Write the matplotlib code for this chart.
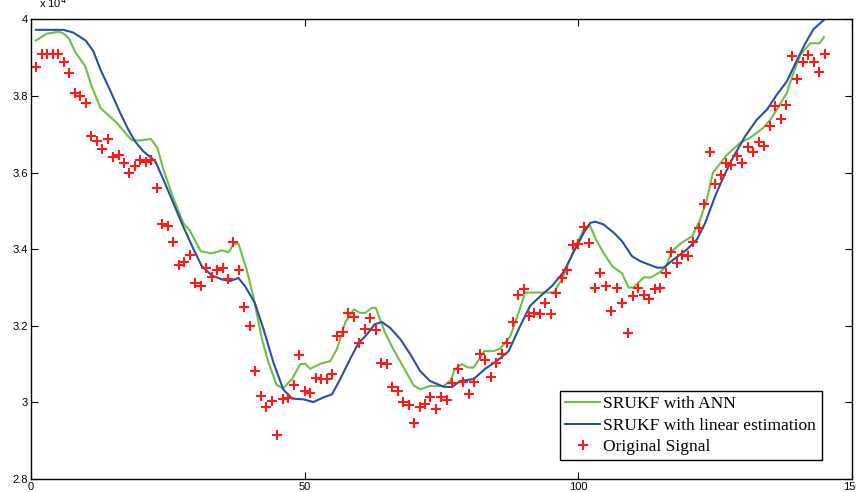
import numpy as np
import matplotlib
matplotlib.use("Agg")
from matplotlib import pyplot as plt

# original signal, one sample per step (values in units of 1e4)
sig_x = np.arange(1, 146)
sig_y = [3.877, 3.910, 3.910, 3.910, 3.911, 3.890, 3.860, 3.808, 3.801, 3.782,
         3.697, 3.682, 3.662, 3.689, 3.641, 3.645, 3.624, 3.600, 3.617, 3.632,
         3.628, 3.632, 3.561, 3.465, 3.460, 3.418, 3.358, 3.368, 3.386, 3.313,
         3.304, 3.351, 3.327, 3.346, 3.352, 3.321, 3.418, 3.347, 3.248, 3.199,
         3.081, 3.017, 2.988, 3.004, 2.915, 3.008, 3.012, 3.045, 3.123, 3.029,
         3.024, 3.063, 3.061, 3.061, 3.074, 3.173, 3.185, 3.234, 3.223, 3.154,
         3.193, 3.220, 3.189, 3.103, 3.101, 3.040, 3.030, 3.002, 2.993, 2.946,
         2.987, 2.995, 3.013, 2.984, 3.013, 3.006, 3.052, 3.087, 3.053, 3.021,
         3.053, 3.126, 3.110, 3.066, 3.104, 3.127, 3.154, 3.211, 3.280, 3.295,
         3.226, 3.234, 3.230, 3.260, 3.230, 3.287, 3.324, 3.345, 3.411, 3.414,
         3.458, 3.417, 3.298, 3.337, 3.304, 3.240, 3.298, 3.259, 3.182, 3.278,
         3.298, 3.280, 3.269, 3.297, 3.300, 3.337, 3.392, 3.363, 3.385, 3.382,
         3.419, 3.456, 3.519, 3.654, 3.571, 3.595, 3.624, 3.621, 3.643, 3.624,
         3.667, 3.653, 3.680, 3.669, 3.721, 3.775, 3.740, 3.777, 3.904, 3.845,
         3.889, 3.906, 3.890, 3.864, 3.910]

# SRUKF with ANN
ann_x = [0.9, 2.9, 5.0, 5.9, 7.0, 8.0, 9.9, 11.1, 12.7, 13.9, 15.7, 17.5, 18.4,
         19.9, 21.9, 23.1, 24.2, 26.0, 27.8, 29.1, 31.0, 33.0, 34.9, 36.1, 37.0,
         37.9, 39.4, 40.6, 42.2, 43.4, 44.9, 46.1, 47.7, 49.2, 50.1, 51.0, 53.1,
         54.7, 55.9, 57.4, 59.0, 60.1, 61.1, 62.3, 63.0, 64.7, 66.2, 68.1, 69.9,
         71.1, 72.9, 75.4, 76.6, 77.5, 78.7, 79.9, 80.9, 82.8, 84.5, 85.7, 87.6,
         89.1, 90.3, 92.5, 94.3, 95.5, 97.0, 99.1, 101.0, 102.1, 103.4, 104.6,
         106.2, 108.0, 109.2, 110.1, 112.0, 113.2, 115.0, 116.1, 117.1, 118.9,
         120.8, 122.3, 123.5, 124.6, 127.2, 129.6, 131.4, 133.8, 135.1, 136.6,
         138.1, 139.4, 140.6, 142.4, 144.1, 144.9]
ann_y = [3.945, 3.963, 3.968, 3.964, 3.949, 3.917, 3.878, 3.825, 3.769, 3.753,
         3.730, 3.699, 3.685, 3.684, 3.688, 3.665, 3.608, 3.534, 3.469, 3.447,
         3.395, 3.389, 3.397, 3.392, 3.413, 3.415, 3.347, 3.278, 3.165, 3.104,
         3.045, 3.037, 3.061, 3.100, 3.101, 3.088, 3.102, 3.108, 3.139, 3.208,
         3.243, 3.234, 3.234, 3.247, 3.247, 3.182, 3.139, 3.091, 3.045, 3.034,
         3.043, 3.043, 3.056, 3.087, 3.100, 3.091, 3.091, 3.134, 3.134, 3.140,
         3.173, 3.234, 3.287, 3.287, 3.287, 3.287, 3.321, 3.395, 3.452, 3.463,
         3.421, 3.391, 3.356, 3.337, 3.300, 3.300, 3.327, 3.326, 3.341, 3.356,
         3.395, 3.417, 3.434, 3.478, 3.530, 3.600, 3.647, 3.678, 3.691, 3.717,
         3.738, 3.772, 3.808, 3.864, 3.908, 3.938, 3.938, 3.954]

# SRUKF with linear estimation
lin_x = [0.9, 5.9, 7.7, 10.0, 11.4, 12.7, 14.4, 16.3, 17.8, 19.0, 20.5, 22.7,
         24.2, 26.0, 27.8, 29.7, 31.2, 33.0, 34.9, 36.4, 37.9, 39.1, 40.9, 42.5,
         44.3, 46.1, 47.7, 49.8, 51.6, 53.4, 55.0, 56.5, 58.3, 59.8, 61.4, 62.8,
         64.1, 65.6, 67.5, 69.3, 71.1, 72.9, 75.4, 76.9, 78.4, 80.9, 83.0, 85.1,
         87.3, 89.1, 91.2, 93.1, 95.2, 97.3, 99.1, 101.0, 102.2, 103.1, 104.6,
         106.5, 108.0, 109.8, 111.3, 112.0, 114.4, 115.6, 117.4, 119.9, 121.7,
         123.2, 125.0, 126.6, 128.4, 130.5, 132.6, 134.5, 136.3, 138.1, 140.0,
         141.5, 143.0, 144.9]
lin_y = [3.973, 3.973, 3.966, 3.945, 3.917, 3.869, 3.817, 3.756, 3.712, 3.682,
         3.656, 3.630, 3.582, 3.521, 3.460, 3.400, 3.356, 3.332, 3.321, 3.317,
         3.325, 3.304, 3.260, 3.191, 3.104, 3.034, 3.010, 3.008, 3.001, 3.013,
         3.021, 3.061, 3.113, 3.154, 3.178, 3.204, 3.210, 3.195, 3.165, 3.126,
         3.082, 3.056, 3.041, 3.040, 3.056, 3.061, 3.088, 3.108, 3.134, 3.191,
         3.252, 3.278, 3.304, 3.340, 3.391, 3.443, 3.469, 3.472, 3.465, 3.443,
         3.421, 3.382, 3.369, 3.365, 3.352, 3.352, 3.373, 3.400, 3.426, 3.469,
         3.538, 3.591, 3.643, 3.695, 3.738, 3.765, 3.804, 3.838, 3.895, 3.938,
         3.975, 3.999]

plt.rcParams['font.family'] = ['Liberation Sans', 'DejaVu Sans']

fig = plt.figure(figsize=(8.56, 4.92), dpi=100)
ax = fig.add_axes([0.0362, 0.0264, 0.959, 0.934])

ax.plot(ann_x, ann_y, color="#6fbf47", linewidth=1.5, label="SRUKF with ANN")
ax.plot(lin_x, lin_y, color="#2b4ea2", linewidth=1.5, label="SRUKF with linear estimation")
ax.plot(sig_x, sig_y, linestyle="none", marker="+", color="#ff1a1a",
        markersize=7, markeredgewidth=1.5, label="Original Signal")

ax.set_xlim(0, 150)
ax.set_ylim(2.8, 4.0)
ax.set_xticks([0, 50, 100, 150])
ax.set_yticks([2.8, 3.0, 3.2, 3.4, 3.6, 3.8, 4.0])
ax.set_yticklabels(["2.8", "3", "3.2", "3.4", "3.6", "3.8", "4"])
ax.tick_params(direction="in", length=5, top=True, right=True, labelsize=8, pad=2)
for sp in ax.spines.values():
    sp.set_linewidth(1.0)

fig.text(0.045, 0.995, r"x 10$^4$", fontsize=8, va="center", ha="left")

leg = ax.legend(loc="lower right", bbox_to_anchor=(0.963, 0.041), fancybox=False,
                framealpha=1, edgecolor="black", borderaxespad=0,
                prop={'family': 'Liberation Serif', 'size': 12.5},
                handlelength=2.0, handletextpad=0.2, labelspacing=0.3,
                borderpad=0.3)
leg.get_frame().set_linewidth(1.0)

fig.savefig("out.png", dpi=100)
